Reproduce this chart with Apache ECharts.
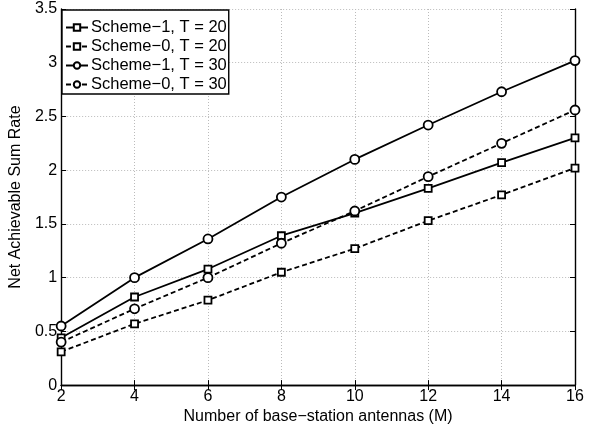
<!DOCTYPE html>
<html><head><meta charset="utf-8">
<script src="https://cdn.jsdelivr.net/npm/echarts@6/dist/echarts.min.js"></script>
<style>html,body{margin:0;padding:0;background:#fff}#c{width:600px;height:430px}</style>
</head><body><div id="c"></div>
<script>
const antennas = [2, 4, 6, 8, 10, 12, 14, 16];
const scheme1T20 = [0.44, 0.82, 1.08, 1.39, 1.60, 1.83, 2.07, 2.30];
const scheme0T20 = [0.31, 0.57, 0.79, 1.05, 1.27, 1.53, 1.77, 2.02];
const scheme1T30 = [0.55, 1.00, 1.36, 1.75, 2.10, 2.42, 2.73, 3.02];
const scheme0T30 = [0.40, 0.71, 1.00, 1.32, 1.62, 1.94, 2.25, 2.56];
const seriesNames = ['Scheme\u22121, T = 20', 'Scheme\u22120, T = 20', 'Scheme\u22121, T = 30', 'Scheme\u22120, T = 30'];
const xTitle = 'Number of base\u2212station antennas (M)';
const yTitle = 'Net Achievable Sum Rate';

const font = 'Liberation Sans, Arial, Helvetica, sans-serif';
const pair = (ys) => antennas.map((x, i) => [x, ys[i]]);
function mk(name, ys, sym, dashed, size) {
  return {
    name, type: 'line', data: pair(ys), symbol: sym, symbolSize: size,
    showSymbol: true,
    lineStyle: { color: '#000', width: 1.8, type: dashed ? [5, 3] : 'solid' },
    itemStyle: { color: '#fff', borderColor: '#000', borderWidth: 1.8 },
    emphasis: { disabled: true }, animation: false, z: 3
  };
}
const chart = echarts.init(document.getElementById('c'), null, { renderer: 'canvas' });
const gridCol = '#bbb';
chart.setOption({
  animation: false,
  textStyle: { fontFamily: font },
  grid: { left: 59, right: 25, top: 9, bottom: 43 },
  legend: {
    left: 62, top: 10, orient: 'vertical',
    data: seriesNames,
    backgroundColor: '#fff', borderColor: '#000', borderWidth: 1.4,
    padding: [9, 2, 1, 3], itemGap: 2, itemWidth: 22, itemHeight: 8,
    textStyle: { fontFamily: font, fontSize: 16.5, lineHeight: 14, color: '#000', padding: [0, 0, 0, -2] },
    selectedMode: false
  },
  xAxis: [{
    type: 'value', min: 2, max: 16, interval: 2,
    name: xTitle, nameLocation: 'middle', nameGap: 21,
    nameTextStyle: { fontFamily: font, fontSize: 16, color: '#000' },
    axisLine: { lineStyle: { color: '#000', width: 1.4 } },
    axisTick: { inside: true, length: 5, lineStyle: { color: '#000' } },
    axisLabel: { fontFamily: font, fontSize: 16, color: '#000', margin: 3 },
    splitLine: { show: true, lineStyle: { color: gridCol, type: [1, 2], width: 1 } }
  }, {
    type: 'value', min: 2, max: 16, interval: 2, position: 'top',
    axisLine: { show: true, lineStyle: { color: '#000', width: 1.4 } },
    axisTick: { show: true, inside: true, length: 5, lineStyle: { color: '#000' } },
    axisLabel: { show: false }, splitLine: { show: false }
  }],
  yAxis: [{
    type: 'value', min: 0, max: 3.5, interval: 0.5,
    name: yTitle, nameLocation: 'middle', nameGap: 31,
    nameTextStyle: { fontFamily: font, fontSize: 16, color: '#000' },
    axisLine: { show: true, lineStyle: { color: '#000', width: 1.4 } },
    axisTick: { show: true, inside: true, length: 5, lineStyle: { color: '#000' } },
    axisLabel: { fontFamily: font, fontSize: 16, color: '#000', margin: 4 },
    splitLine: { show: true, lineStyle: { color: gridCol, type: [1, 2], width: 1 } }
  }, {
    type: 'value', min: 0, max: 3.5, interval: 0.5, position: 'right',
    axisLine: { show: true, lineStyle: { color: '#000', width: 1.4 } },
    axisTick: { show: true, inside: true, length: 5, lineStyle: { color: '#000' } },
    axisLabel: { show: false }, splitLine: { show: false }
  }],
  series: [
    mk(seriesNames[0], scheme1T20, 'rect', false, 7),
    mk(seriesNames[1], scheme0T20, 'rect', true, 7),
    mk(seriesNames[2], scheme1T30, 'circle', false, 9),
    mk(seriesNames[3], scheme0T30, 'circle', true, 9)
  ]
});
</script></body></html>
